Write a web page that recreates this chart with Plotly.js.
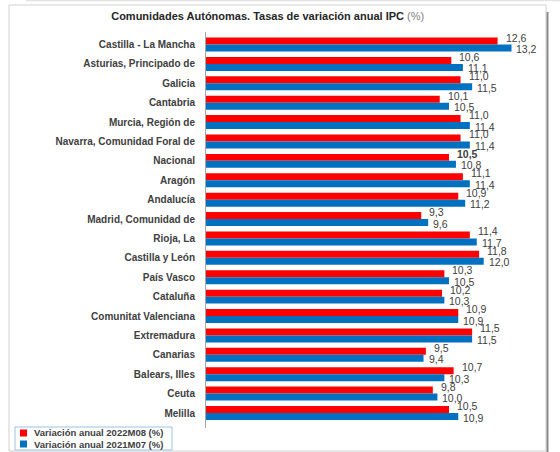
<!DOCTYPE html>
<html><head><meta charset="utf-8">
<script src="https://cdn.plot.ly/plotly-3.0.1.min.js"></script>
<style>html,body{margin:0;padding:0;background:#fff;}#chart{width:560px;height:452px;}</style>
</head><body><div id="chart"></div>
<script>
var categories = ["Castilla - La Mancha","Asturias, Principado de","Galicia","Cantabria","Murcia, Región de","Navarra, Comunidad Foral de","Nacional","Aragón","Andalucía","Madrid, Comunidad de","Rioja, La","Castilla y León","País Vasco","Cataluña","Comunitat Valenciana","Extremadura","Canarias","Balears, Illes","Ceuta","Melilla"];
var var2022M08 = [12.6,10.6,11.0,10.1,11.0,11.0,10.5,11.1,10.9,9.3,11.4,11.8,10.3,10.2,10.9,11.5,9.5,10.7,9.8,10.5];
var var2021M07 = [13.2,11.1,11.5,10.5,11.4,11.4,10.8,11.4,11.2,9.6,11.7,12.0,10.5,10.3,10.9,11.5,9.4,10.3,10.0,10.9];
var seriesNames = ["Variación anual 2022M08 (%)","Variación anual 2021M07 (%)"];
var seriesColors = ['#FF0000','#0070C0'];

function fmt(v){ return v.toFixed(1).replace('.', ','); }

var L=206, R=30, T=32, B=24, W=560, H=452;
var pw = W-L-R, ph = H-T-B;
function px(x){ return (x-L)/pw; }
function py(y){ return (H-B-y)/ph; }

var FONT = 'Liberation Sans, Arial, sans-serif';
var data = [
  {type:'bar', orientation:'h', y:categories, x:var2022M08, name:seriesNames[0], marker:{color:seriesColors[0]}, hoverinfo:'none'},
  {type:'bar', orientation:'h', y:categories, x:var2021M07, name:seriesNames[1], marker:{color:seriesColors[1]}, hoverinfo:'none'}
];

var annotations = [];
categories.forEach(function(c,i){
  var s1 = fmt(var2022M08[i]);
  if (c === 'Nacional') s1 = '<b>'+s1+'</b>';
  annotations.push({x:var2022M08[i], y:c, xref:'x', yref:'y', text:s1, showarrow:false, xanchor:'left', yanchor:'middle',
    xshift:6, yshift:7, font:{family:FONT, size:10.5, color:'#404040'}});
  annotations.push({x:var2021M07[i], y:c, xref:'x', yref:'y', text:fmt(var2021M07[i]), showarrow:false, xanchor:'left', yanchor:'middle',
    xshift:3, yshift:-4.5, font:{family:FONT, size:10.5, color:'#404040'}});
});
// manual legend
var legendRows = [433, 444];
seriesNames.forEach(function(n,k){
  annotations.push({xref:'paper', yref:'paper', x:px(32), y:py(legendRows[k]), text:n, showarrow:false, xanchor:'left', yanchor:'middle',
    font:{family:FONT, size:9.5, color:'#404040', weight:'bold'}});
});

var shapes = [
  {type:'line', xref:'paper', yref:'paper', x0:px(26), x1:px(560), y0:py(0.5), y1:py(0.5), line:{color:'#e3e3e3', width:1.5}, layer:'below'},
  {type:'rect', xref:'paper', yref:'paper', x0:px(9), x1:px(546), y0:py(451), y1:py(5), line:{color:'#d0d0d0', width:1}, fillcolor:'#ffffff', layer:'below'},
  {type:'line', xref:'paper', yref:'paper', x0:px(547.5), x1:px(547.5), y0:py(452), y1:py(12), line:{color:'#8a8a8a', width:2}, layer:'below'},
  {type:'rect', xref:'paper', yref:'paper', x0:px(15), x1:px(172), y0:py(450), y1:py(427), line:{color:'#9dc3e6', width:1}, fillcolor:'#ffffff', layer:'above'}
];
seriesColors.forEach(function(col,k){
  shapes.push({type:'rect', xref:'paper', yref:'paper', x0:px(20), x1:px(27), y0:py(legendRows[k]+3.5), y1:py(legendRows[k]-3.5), line:{width:0}, fillcolor:col, layer:'above'});
});

var layout = {
  width:W, height:H, margin:{l:L, r:R, t:T, b:B, pad:0},
  paper_bgcolor:'#fff', plot_bgcolor:'rgba(0,0,0,0)',
  barmode:'group', bargap:0.28, bargroupgap:0,
  font:{family:FONT, color:'#404040'},
  title:{text:'<b>Comunidades Autónomas. Tasas de variación anual IPC</b> <span style="color:#7f7f7f">(%)</span>',
    font:{size:11, color:'#262626', family:FONT}, x:0.478, xanchor:'center', xref:'container', y:1-16/H, yanchor:'middle', yref:'container'},
  xaxis:{range:[0,14], visible:false, showgrid:false, zeroline:false, fixedrange:true},
  yaxis:{autorange:'reversed', showline:true, linecolor:'#a6a6a6', linewidth:1, ticks:'outside', ticklen:8, tickcolor:'rgba(0,0,0,0)',
    showgrid:false, tickfont:{size:10, color:'#404040', family:FONT, weight:'bold'}},
  showlegend:false,
  annotations:annotations,
  shapes:shapes
};
Plotly.newPlot('chart', data, layout, {displayModeBar:false, staticPlot:true});
</script></body></html>
